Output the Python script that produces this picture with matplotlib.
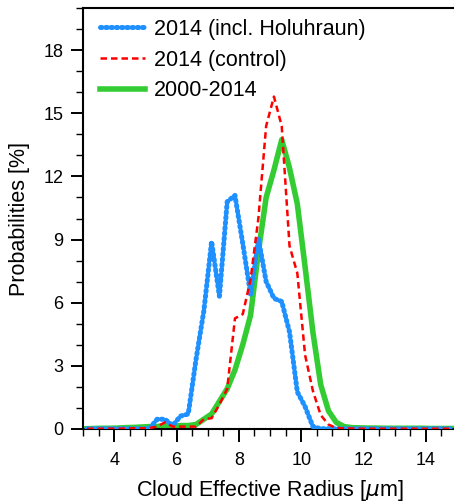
import matplotlib
matplotlib.use("Agg")
import matplotlib.pyplot as plt
from matplotlib.ticker import MultipleLocator

plt.rcParams['font.family'] = ['Liberation Sans', 'DejaVu Sans']

# bin centres of cloud effective radius (um)
radius = [3.125, 3.375, 3.625, 3.875, 4.125, 4.375, 4.625, 4.875, 5.125, 5.375,
          5.625, 5.875, 6.125, 6.375, 6.625, 6.875, 7.125, 7.375, 7.625, 7.875,
          8.125, 8.375, 8.625, 8.875, 9.125, 9.375, 9.625, 9.875, 10.125, 10.375,
          10.625, 10.875, 11.125, 11.375, 11.625, 11.875, 12.125, 12.375, 12.625,
          12.875, 13.125, 13.375, 13.625, 13.875, 14.125, 14.375, 14.625, 14.875]

holuhraun = [0.0, 0.0, 0.0, 0.0, 0.0, 0.0, 0.0, 0.0, 0.0, 0.45,
             0.45, 0.15, 0.6, 0.7, 3.3, 5.6, 8.9, 6.3, 10.8, 11.1,
             8.8, 6.4, 9.05, 7.0, 6.2, 6.05, 4.6, 1.75, 1.05, 0.1,
             0.0, 0.0, 0.0, 0.0, 0.0, 0.0, 0.0, 0.0, 0.0,
             0.0, 0.0, 0.0, 0.0, 0.0, 0.0, 0.0, 0.0, 0.0]

control = [0.0, 0.0, 0.0, 0.0, 0.0, 0.01, 0.02, 0.02, 0.03, 0.1,
           0.3, 0.1, 0.1, 0.1, 0.1, 0.45, 0.5, 1.15, 1.9, 5.25,
           5.45, 7.1, 10.0, 14.4, 15.8, 14.4, 8.7, 7.4, 3.5, 1.8,
           0.65, 0.2, 0.03, 0.02, 0.01, 0.0, 0.0, 0.0, 0.0,
           0.0, 0.0, 0.0, 0.0, 0.0, 0.0, 0.0, 0.0, 0.0]

clim = [0.0, 0.01, 0.02, 0.02, 0.03, 0.05, 0.06, 0.08, 0.1, 0.1,
        0.15, 0.1, 0.15, 0.15, 0.2, 0.45, 0.7, 1.3, 1.9, 2.8,
        4.0, 5.4, 8.4, 11.0, 12.3, 13.75, 12.4, 10.7, 7.7, 4.6,
        2.1, 0.85, 0.3, 0.1, 0.05, 0.04, 0.03, 0.03, 0.02,
        0.02, 0.02, 0.02, 0.02, 0.02, 0.01, 0.01, 0.01, 0.01]

labels = ["2014 (incl. Holuhraun)", "2014 (control)", "2000-2014"]

fig = plt.figure(figsize=(4.54, 5.04), dpi=100)
ax = fig.add_axes([0.183, 0.1494, 0.8236, 0.8341])

ax.plot(radius, holuhraun, color='#1e90ff', lw=3.6, linestyle=(0, (0.3, 0.75)),
        dash_capstyle='round', label=labels[0], zorder=3)
ax.plot(radius, control, color='#ff0000', lw=1.8, linestyle=(0, (2.6, 1.6)),
        label=labels[1], zorder=4)
ax.plot(radius, clim, color='#33cc33', lw=4.0, label=labels[2], zorder=2)

ax.set_xlim(3, 15)
ax.set_ylim(0, 20)
ax.xaxis.set_major_locator(MultipleLocator(2))
ax.xaxis.set_minor_locator(MultipleLocator(0.5))
ax.yaxis.set_major_locator(MultipleLocator(3))
ax.yaxis.set_minor_locator(MultipleLocator(1))
ax.set_xticks([4, 6, 8, 10, 12, 14])
ax.tick_params(which='major', length=9, width=1.4, labelsize=13, pad=5)
ax.tick_params(which='minor', length=5, width=1.0)
ax.tick_params(axis='x', which='major', pad=8)
for s in ax.spines.values():
    s.set_linewidth(1.5)

ax.set_xlabel(r"Cloud Effective Radius [$\mu$m]", fontsize=15.5, labelpad=6)
ax.set_ylabel("Probabilities [%]", fontsize=15.5, labelpad=10)

ax.legend(loc='upper left', bbox_to_anchor=(0.045, 0.975), frameon=False,
          fontsize=15.5, handlelength=2.1, handletextpad=0.4, labelspacing=0.45,
          borderaxespad=0, borderpad=0)

fig.savefig("out.png", dpi=100)
